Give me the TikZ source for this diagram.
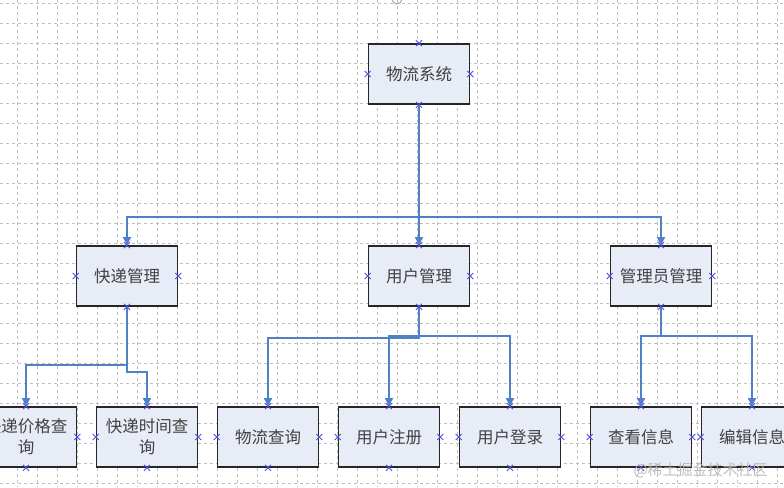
\documentclass[tikz,border=0pt]{standalone}
\usepackage{fontspec}
\newfontfamily\cjk{Noto Sans CJK SC}
\usetikzlibrary{arrows.meta}
\definecolor{lnblue}{RGB}{79,129,199}
\definecolor{xblue}{RGB}{80,80,225}
\definecolor{boxfill}{RGB}{232,236,246}
\definecolor{txtgray}{RGB}{65,65,65}
\begin{document}
\begin{tikzpicture}[x=1pt,y=-1pt,
  box/.style={draw=black!85, line width=1.6pt, fill=boxfill, minimum width=101pt, minimum height=60pt, inner sep=0pt, font=\cjk\fontsize{16.5}{21}\selectfont, text=txtgray, align=center},
  conn/.style={draw=lnblue, line width=1.4pt, -{Triangle[length=8pt,width=8pt]}},
  gridline/.style={draw=gray!50, dashed, line width=0.6pt},
  xmk/.style={draw=xblue, line width=0.8pt},
]
\useasboundingbox (0,0) rectangle (784,487);
\clip (0,0) rectangle (784,487);
\fill[white] (0,0) rectangle (784,487);
\foreach \gx in {17,37,...,777} \draw[gridline] (\gx,0) -- (\gx,487);
\foreach \gy in {3,23,...,483} \draw[gridline] (0,\gy) -- (784,\gy);
\draw[gray!70, line width=1pt] (397,-1) circle (5);

\node[box] (sys) at (419,74) {物流系统};
\node[box] (kd) at (127,276) {快递管理};
\node[box] (yh) at (419,276) {用户管理};
\node[box] (gly) at (661,276) {管理员管理};
\node[box] (b1) at (26,437) {快递价格查\\询};
\node[box] (b2) at (147,437) {快递时间查\\询};
\node[box] (b3) at (268,437) {物流查询};
\node[box] (b4) at (389,437) {用户注册};
\node[box] (b5) at (510,437) {用户登录};
\node[box] (b6) at (641,437) {查看信息};
\node[box] (b7) at (752,437) {编辑信息};

\coordinate (h1) at (419,217);
\coordinate (h2) at (127,365);
\coordinate (h3) at (127,372);
\coordinate (h4) at (419,338);
\coordinate (h5) at (419,336);
\coordinate (h6) at (661,336);

\draw[conn] (sys.south) -- (yh.north);
\draw[conn] (h1) -| (kd.north);
\draw[conn] (h1) -| (gly.north);
\draw[conn] (kd.south) -- (h2) -| (b1.north);
\draw[conn] (kd.south) -- (h3) -| (b2.north);
\draw[conn] (yh.south) -- (h4) -| (b3.north);
\draw[conn] (h5) -| (b4.north);
\draw[conn] (h5) -| (b5.north);
\draw[conn] (gly.south) -- (h6) -| (b6.north);
\draw[conn] (h6) -| (b7.north);

\foreach \n in {sys,kd,yh,gly,b1,b2,b3,b4,b5,b6,b7}
  \foreach \a in {north,south,east,west}
    \draw[xmk] (\n.\a) +(-3,-3) -- +(3,3) +(-3,3) -- +(3,-3);

\node[font=\cjk\fontsize{15}{15}\selectfont, text=gray!60, opacity=0.85, anchor=west] (wm) at (630,470) {@稀土掘金技术社区};
\end{tikzpicture}
\end{document}
